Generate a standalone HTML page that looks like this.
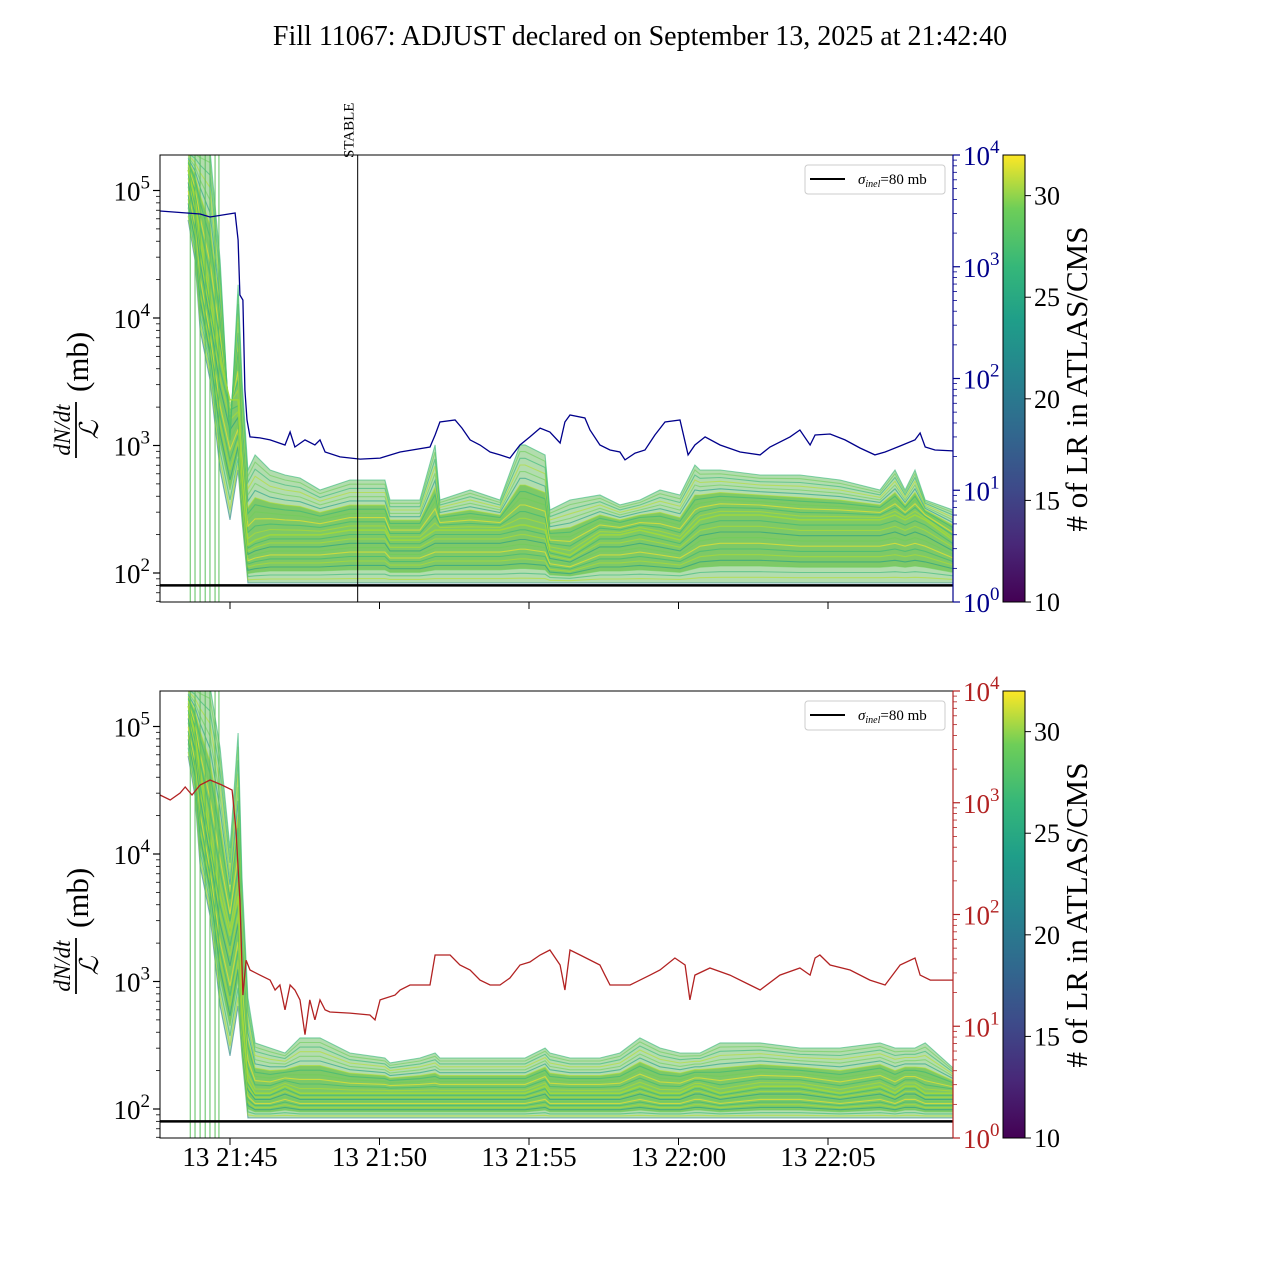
<!DOCTYPE html>
<html><head><meta charset="utf-8"><style>
html,body{margin:0;padding:0;background:#fff;}
svg{display:block;font-family:"Liberation Serif",serif;}
</style></head><body>
<svg id="chart" width="1280" height="1280" viewBox="0 0 1280 1280" xmlns="http://www.w3.org/2000/svg">
<defs>
<linearGradient id="viridis" x1="0" y1="1" x2="0" y2="0">
<stop offset="0" stop-color="#440154"/><stop offset="0.13" stop-color="#482878"/><stop offset="0.25" stop-color="#3e4989"/><stop offset="0.38" stop-color="#31688e"/><stop offset="0.5" stop-color="#26828e"/><stop offset="0.63" stop-color="#1f9e89"/><stop offset="0.75" stop-color="#35b779"/><stop offset="0.88" stop-color="#6ece58"/><stop offset="1" stop-color="#fde725"/>
</linearGradient>
<clipPath id="clipTop"><rect x="160" y="155" width="793" height="447"/></clipPath>
<clipPath id="clipBot"><rect x="160" y="691" width="793" height="447"/></clipPath>
</defs>
<text x="640" y="45" font-size="28" text-anchor="middle">Fill 11067: ADJUST declared on September 13, 2025 at 21:42:40</text>
<g id="root"></g>
</svg>
<script>
// ---- data (time in minutes after 21:00) ----
const blueTimes=[42.66,44.0,44.33,45.17,45.27,45.33,45.43,45.50,45.57,45.67,46.0,46.34,46.84,47.01,47.17,47.51,47.84,48.01,48.18,48.68,49.35,50.02,50.69,51.69,51.86,52.02,52.53,52.76,53.03,53.36,53.70,54.03,54.36,54.70,55.03,55.37,55.70,56.04,56.20,56.37,56.87,57.04,57.37,57.71,58.04,58.21,58.55,58.88,59.21,59.55,60.05,60.32,60.55,60.89,61.39,62.06,62.73,63.06,63.73,64.06,64.40,64.57,65.07,65.57,66.07,66.57,66.91,67.41,67.91,68.08,68.25,68.58,69.18];
const blueValues=[3155,2965,2790,3025,1735,559,504,79,42.5,30,29.4,28.2,25.4,33.2,24.4,28.2,25.4,28.2,22,19.9,19,19.4,22,24.4,31.2,40.8,42.5,36,28.2,25.4,22,20.7,19.4,25.4,30,36,33.2,26.5,40.8,47.1,44.3,34.6,25.4,22.9,22,18.7,21.5,22.9,31.2,40.8,42.5,20.7,25.4,30,25.4,22,20.7,24.4,30,34.6,25.4,31.2,31.9,28.2,23.9,20.7,22,24.9,28.2,32.5,24.4,22.9,22.5];
const redTimes=[42.66,43.0,43.33,43.50,43.73,44.0,44.33,44.73,45.07,45.20,45.33,45.43,45.54,45.67,46.0,46.34,46.51,46.67,46.84,47.01,47.17,47.34,47.51,47.67,47.84,48.01,48.18,48.34,49.01,49.68,49.85,50.02,50.52,50.69,51.02,51.69,51.86,52.36,52.69,53.03,53.36,53.70,54.03,54.36,54.70,55.03,55.37,55.70,56.04,56.20,56.37,56.71,57.37,57.54,57.71,58.38,59.05,59.38,59.88,60.22,60.38,60.55,61.05,61.72,62.39,62.73,63.39,64.06,64.40,64.57,64.73,65.07,65.74,66.40,66.91,67.41,67.91,68.08,68.42,69.18];
const redValues=[1172,1059,1222,1384,1172,1442,1599,1442,1300,570,135,19,39,31.9,28.7,25.9,21.1,23.4,14,23.4,21.1,17.2,8.4,17.2,11.4,17.2,14,13.4,13.1,12.6,11.4,17.2,19,21.1,23.4,23.4,43.4,43.4,35.3,31.9,25.9,23.4,23.4,27,35.3,37.6,43.4,48.1,35.3,21.1,48.1,43.4,35.3,28.7,23.4,23.4,28.7,31.9,40.8,35.3,17.2,28.7,33.2,28.7,23.4,21.1,28.7,33.2,28.7,40.8,43.4,35.3,31.9,25.9,23.4,35.3,40.8,28.7,25.9,25.9];
const bandTimes=[43.60,43.83,44.0,44.33,44.67,45.0,45.27,45.40,45.60,45.84,46.34,46.84,47.34,48.01,49.01,50.18,50.35,51.35,51.86,52.02,53.03,54.03,54.70,54.87,55.54,55.70,56.37,57.37,58.04,58.71,59.38,60.05,60.55,60.72,61.39,62.73,64.06,65.40,66.74,67.24,67.58,67.91,68.25,69.18];
const topUpper=[208000,208000,208000,208000,28500,1100,18200,3270,642,842,642,587,556,448,536,536,374,374,1010,374,448,374,1010,1010,842,312,374,409,342,374,448,409,703,642,642,587,587,536,448,642,448,642,374,312];
const topMid=[145000,84200,40900,13800,4690,2280,2280,536,166,181,199,199,199,199,217,217,181,181,217,217,217,217,238,238,217,151,138,199,199,217,199,181,238,261,285,285,261,261,261,285,261,285,261,181];
const topLower=[58700,28500,8050,3270,642,261,642,261,83.5,83.5,83.5,83.5,83.5,83.5,83.5,83.5,83.5,83.5,83.5,83.5,83.5,83.5,83.5,83.5,83.5,83.5,83.5,83.5,83.5,83.5,83.5,83.5,83.5,83.5,83.5,83.5,83.5,83.5,83.5,83.5,83.5,83.5,83.5,83.5];
const botUpper=[208000,208000,208000,208000,67800,11100,88900,6490,743,330,301,275,361,361,275,251,230,251,275,251,251,251,251,251,301,275,251,251,275,361,301,275,275,275,330,330,301,301,330,301,301,301,330,210];
const botMid=[145000,84200,40900,13800,4690,2280,4690,536,166,133,133,151,133,133,133,133,133,133,133,133,133,133,133,133,151,133,133,133,133,151,133,133,151,151,133,151,151,133,151,133,151,151,133,133];
const botLower=[58700,28500,8050,3270,642,261,642,261,85,85,85,85,85,85,85,85,85,85,85,85,85,85,85,85,85,85,85,85,85,85,85,85,85,85,85,85,85,85,85,85,85,85,85,85];
const gapTimes=[43.67,43.83,44.0,44.17,44.33,44.50,44.63];
const sigmaInel=80;
const stableTime=49.27;
const xTickTimes=[45,50,55,60,65];
const xTickLabels=["13 21:45","13 21:50","13 21:55","13 22:00","13 22:05"];
const leftDecades=[2,3,4,5];
const rightDecades=[0,1,2,3,4];
const cbTicks=[10,15,20,25,30];
const cbMin=10, cbMax=32;

const NS="http://www.w3.org/2000/svg";
const root=document.getElementById('root');
function mk(tag,attrs,parent){const e=document.createElementNS(NS,tag);for(const k in attrs)e.setAttribute(k,attrs[k]);(parent||root).appendChild(e);return e;}
const X0=160,X1=953;
function xS(t){return 230+(t-45)*29.9;}
function yL(v,top){return top+418-(Math.log10(v)-2)*127.5;}
function yR(v,top){return top+447-Math.log10(v)*111.75;}
const vir=["#440154","#482878","#3e4989","#31688e","#26828e","#1f9e89","#35b779","#6ece58","#b5de2b","#fde725"];

function panel(top,lineTimes,lineVals,lineColor,up,mid,low,clip,showXLabels,panelName){
  const g=mk('g',{});
  
  
  const cg=mk('g',{'clip-path':'url(#'+clip+')'},g);
  let pts=[];
  for(let i=0;i<bandTimes.length;i++)pts.push(xS(bandTimes[i]).toFixed(1)+','+yL(up[i],top).toFixed(1));
  for(let i=bandTimes.length-1;i>=0;i--)pts.push(xS(bandTimes[i]).toFixed(1)+','+yL(low[i],top).toFixed(1));
  const band=mk('polygon',{points:pts.join(' '),fill:'#9fd49a','fill-opacity':'0.8',stroke:'none'},cg);
  
  
  let core=[];
  for(let i=0;i<bandTimes.length;i++){const lu=Math.log10(up[i]),lm=Math.log10(mid[i]);core.push(xS(bandTimes[i]).toFixed(1)+','+yL(Math.pow(10,lm+(lu-lm)*0.5),top).toFixed(1));}
  for(let i=bandTimes.length-1;i>=0;i--){const ll=Math.log10(low[i]),lm=Math.log10(mid[i]);core.push(xS(bandTimes[i]).toFixed(1)+','+yL(Math.pow(10,ll+(lm-ll)*0.25),top).toFixed(1));}
  const cb2=mk('polygon',{points:core.join(' '),fill:'#6cc24f','fill-opacity':'0.75',stroke:'none'},cg);
  
  
  const N=24;
  for(let k=0;k<=N;k++){
    const f=k/N;let d='';
    for(let i=0;i<bandTimes.length;i++){
      const lu=Math.log10(up[i]),lm=Math.log10(mid[i]),ll=Math.log10(low[i]);
      const lv=f<0.5?ll+(lm-ll)*(f/0.5):lm+(lu-lm)*((f-0.5)/0.5);
      d+=(i?'L':'M')+xS(bandTimes[i]).toFixed(1)+','+yL(Math.pow(10,lv),top).toFixed(1);
    }
    const c=vir[[4,8,6,7,5,8,6,9,7,5,8,6,7,8,6,9,7,6,8,5,7,8,6,7,6][k]];
    const p=mk('path',{d:d,fill:'none',stroke:c,'stroke-width':'1.1','stroke-opacity':'0.6'},cg);
    
    
  }
  let dm='';
  for(let i=0;i<bandTimes.length;i++)dm+=(i?'L':'M')+xS(bandTimes[i]).toFixed(1)+','+yL(mid[i],top).toFixed(1);
  const ml=mk('path',{d:dm,fill:'none',stroke:'#a8db34','stroke-width':'1.5','stroke-opacity':'0.8'},cg);
  
  
  gapTimes.forEach(t=>{
    const l=mk('line',{x1:xS(t),x2:xS(t),y1:top,y2:top+447,stroke:'#5cc05e','stroke-width':'1'},cg);
    
    
  });
  const sl=mk('line',{x1:X0,x2:X1,y1:yL(sigmaInel,top),y2:yL(sigmaInel,top),stroke:'#000','stroke-width':'2.5'},cg);
  
  
  let dl='';
  for(let i=0;i<lineTimes.length;i++)dl+=(i?'L':'M')+xS(lineTimes[i]).toFixed(1)+','+yR(lineVals[i],top).toFixed(1);
  const rl=mk('path',{d:dl,fill:'none',stroke:lineColor,'stroke-width':'1.3'},cg);
  
  
  const fr=mk('rect',{x:X0,y:top,width:X1-X0,height:447,fill:'none',stroke:'#000','stroke-width':'1'},g);
  
  
  const ra=mk('line',{x1:X1,x2:X1,y1:top,y2:top+447,stroke:lineColor,'stroke-width':'1.2'},g);
  
  
  for(let dcd=1;dcd<=5;dcd++){
    for(let m=1;m<10;m++){
      const v=m*Math.pow(10,dcd);const y=yL(v,top);
      if(y<top-0.5||y>top+447.5)continue;
      mk('line',{x1:X0-(m===1?7:4),x2:X0,y1:y,y2:y,stroke:'#000','stroke-width':m===1?1.2:0.8},g);
    }
  }
  leftDecades.forEach(d=>{
    const y=yL(Math.pow(10,d),top);
    const t=mk('text',{x:150,y:y+10,'font-size':'27','text-anchor':'end'},g);
    
    
    t.innerHTML='10<tspan font-size="19" dy="-12">'+d+'</tspan>';
  });
  for(let dcd=0;dcd<=4;dcd++){
    for(let m=1;m<10;m++){
      if(dcd===4&&m>1)break;
      const y=yR(m*Math.pow(10,dcd),top);
      mk('line',{x1:X1,x2:X1+(m===1?7:4),y1:y,y2:y,stroke:lineColor,'stroke-width':m===1?1.2:0.8},g);
    }
  }
  rightDecades.forEach(d=>{
    const y=yR(Math.pow(10,d),top);
    const t=mk('text',{x:963,y:y+10,'font-size':'27',fill:lineColor},g);
    
    
    t.innerHTML='10<tspan font-size="19" dy="-12">'+d+'</tspan>';
  });
  xTickTimes.forEach((t,i)=>{
    const x=xS(t);
    mk('line',{x1:x,x2:x,y1:top+447,y2:top+454,stroke:'#000','stroke-width':'1'},g);
    if(showXLabels){
      const tx=mk('text',{x:x,y:top+475,'font-size':'27','text-anchor':'middle'},g);
      
      
      tx.textContent=xTickLabels[i];
    }
  });
  const yl=mk('g',{transform:'translate(76,'+(top+223)+') rotate(-90)'},g);
  
  
  const t1=mk('text',{x:-52,y:-6,'font-size':'23','font-style':'italic','text-anchor':'middle'},yl);t1.textContent='dN/dt';
  mk('line',{x1:-80,x2:-24,y1:0,y2:0,stroke:'#000','stroke-width':'1.8'},yl);
  const t2=mk('text',{x:-52,y:22,'font-size':'26','font-style':'italic','text-anchor':'middle'},yl);t2.textContent='ℒ';
  const t3=mk('text',{x:-14,y:12,'font-size':'31'},yl);t3.textContent='(mb)';
  const lg=mk('g',{},g);
  
  
  mk('rect',{x:805,y:top+10,width:140,height:29,rx:3,fill:'#fff',stroke:'#ccc','stroke-width':'1'},lg);
  mk('line',{x1:810,x2:845,y1:top+24,y2:top+24,stroke:'#000','stroke-width':'2'},lg);
  const lt=mk('text',{x:858,y:top+29,'font-size':'15'},lg);
  lt.innerHTML='<tspan font-style="italic">σ</tspan><tspan font-size="10" font-style="italic" dy="3">inel</tspan><tspan dy="-3">=80 mb</tspan>';
  const cb=mk('g',{},g);
  
  
  mk('rect',{x:1003,y:top,width:22,height:447,fill:'url(#viridis)',stroke:'#000','stroke-width':'1'},cb);
  cbTicks.forEach(v=>{
    const y=top+447-(v-cbMin)/(cbMax-cbMin)*447;
    mk('line',{x1:1025,x2:1031,y1:y,y2:y,stroke:'#000','stroke-width':'1'},cb);
    const t=mk('text',{x:1034,y:y+9,'font-size':'26'},cb);t.textContent=v;
  });
  const cl=mk('text',{transform:'translate(1087,'+(top+224)+') rotate(-90)','font-size':'31','text-anchor':'middle'},cb);
  cl.textContent='# of LR in ATLAS/CMS';
}
panel(155,blueTimes,blueValues,'#00008b',topUpper,topMid,topLower,'clipTop',false,'top-panel');
panel(691,redTimes,redValues,'#b22222',botUpper,botMid,botLower,'clipBot',true,'bottom-panel');
const sx=xS(stableTime);
const st=mk('line',{x1:sx,x2:sx,y1:155,y2:602,stroke:'#000','stroke-width':'1'});


const stt=mk('text',{transform:'translate('+(sx-4)+',158) rotate(-90)','font-size':'15'});


stt.textContent='STABLE';
</script>
</body></html>
